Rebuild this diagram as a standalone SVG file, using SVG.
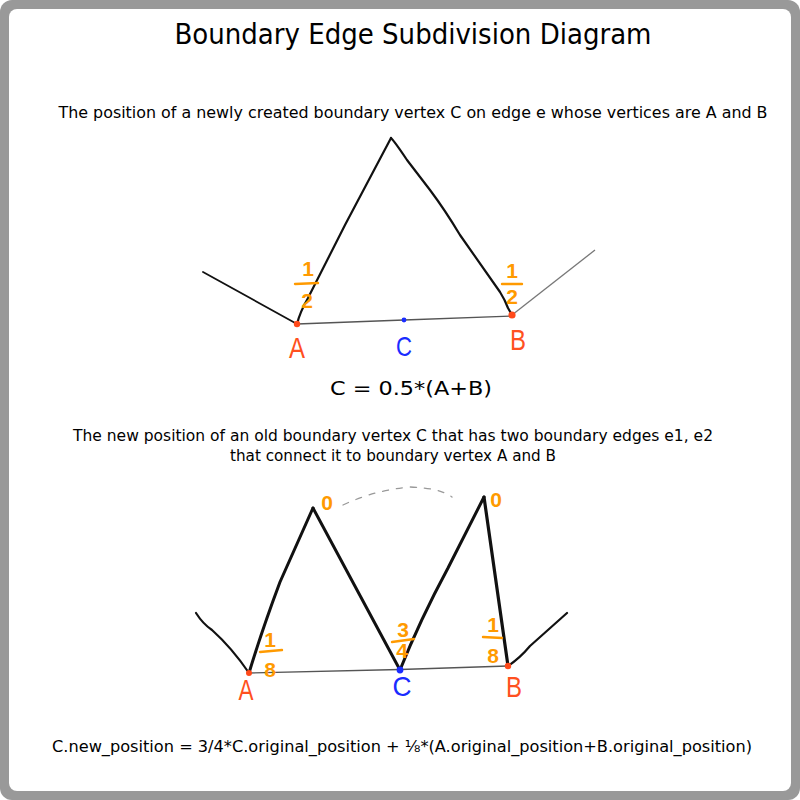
<svg xmlns="http://www.w3.org/2000/svg" width="800" height="800" viewBox="0 0 800 800">
<style>
.t{font-family:"DejaVu Sans",Verdana,sans-serif;fill:#000;text-anchor:middle}
.hw{font-family:"Liberation Sans",Arial,sans-serif;text-anchor:middle}
.fr{fill:#ff9a00;font-weight:bold;font-size:21px}
.ab{fill:#ff5020;font-size:30px}
.c{fill:#1a2cff;font-size:28px}
.bar{stroke:#ff9a00;stroke-width:2.4;stroke-linecap:round}
.e{fill:none;stroke:#111;stroke-linecap:round;stroke-linejoin:round}
.thin{fill:none;stroke:#555;stroke-width:1.3;stroke-linecap:round}
</style>
<rect x="0" y="0" width="800" height="800" rx="12" fill="#999"/>
<rect x="9" y="9" width="782" height="782" rx="8" fill="#fff"/>
<text class="t" x="413" y="44" font-size="28" textLength="477" lengthAdjust="spacingAndGlyphs">Boundary Edge Subdivision Diagram</text>
<text class="t" x="413" y="118" font-size="16" textLength="709" lengthAdjust="spacingAndGlyphs">The position of a newly created boundary vertex C on edge e whose vertices are A and B</text>
<text class="t" x="411" y="395" font-size="20" textLength="162" lengthAdjust="spacingAndGlyphs">C = 0.5*(A+B)</text>
<text class="t" x="393" y="441" font-size="16" textLength="640" lengthAdjust="spacingAndGlyphs">The new position of an old boundary vertex C that has two boundary edges e1, e2</text>
<text class="t" x="393" y="461" font-size="16" textLength="326" lengthAdjust="spacingAndGlyphs">that connect it to boundary vertex A and B</text>
<text class="t" x="402" y="752" font-size="16" textLength="700" lengthAdjust="spacingAndGlyphs">C.new_position = 3/4*C.original_position + ⅛*(A.original_position+B.original_position)</text>

<g id="connectors">
<!-- top -->
<path class="e" stroke-width="1.8" d="M203 272 L297 324"/>
<path class="e" stroke-width="2.2" d="M297 324 Q300 312 308 298 L345 225 L391 138"/>
<path class="e" stroke-width="2.2" d="M391 138 Q395 142 407 160 L430 190 Q445 210 460 235 L500 292 Q505 300 508 308 L512 315"/>
<path fill="none" stroke="#777" stroke-width="1.3" d="M512 315 L595 250"/>
<path class="thin" d="M297 324 L404 320 L512 316"/>
<!-- bottom -->
<path class="e" stroke-width="2.2" d="M196 613 Q203 624 212 630 Q232 648 249 673"/>
<path class="e" stroke-width="3" d="M249 673 Q262 630 280 582 L313 508"/>
<path class="e" stroke-width="3" d="M313 508 L400 670"/>
<path class="e" stroke-width="3" d="M400 670 Q420 620 448 568 L484 497"/>
<path class="e" stroke-width="3.2" d="M484 497 L508 666"/>
<path class="e" stroke-width="2.2" d="M508 666 Q520 658 530 646 L567 613"/>
<path class="thin" d="M249 673 L400 669.5 L508 666"/>
<path fill="none" stroke="#999" stroke-width="1.3" stroke-dasharray="6 8" stroke-linecap="round" d="M343 505 Q375 490 410 487 Q440 488 452 497"/>
</g>

<g id="vertexA_top">
<circle cx="297" cy="324" r="3.2" fill="#ff4a1a"/>
<text class="hw ab" x="297" y="358" textLength="16" lengthAdjust="spacingAndGlyphs">A</text>
</g>
<g id="vertexB_top">
<circle cx="512" cy="315" r="3.6" fill="#ff4a1a"/>
<text class="hw ab" x="518" y="350" textLength="16" lengthAdjust="spacingAndGlyphs">B</text>
</g>
<g id="vertexC_top">
<circle cx="404" cy="320" r="2.4" fill="#1a2cff"/>
<text class="hw c" x="404" y="356" textLength="16" lengthAdjust="spacingAndGlyphs">C</text>
</g>
<g id="weightA_top">
<text class="hw fr" x="308" y="276">1</text>
<line class="bar" x1="295" y1="284" x2="318" y2="283"/>
<text class="hw fr" x="307" y="308">2</text>
</g>
<g id="weightB_top">
<text class="hw fr" x="512" y="278">1</text>
<line class="bar" x1="502" y1="284" x2="522" y2="284"/>
<text class="hw fr" x="512" y="304">2</text>
</g>

<g id="vertexA_bottom">
<circle cx="249" cy="673" r="3" fill="#ff4a1a"/>
<text class="hw ab" x="246" y="700" textLength="15" lengthAdjust="spacingAndGlyphs">A</text>
</g>
<g id="vertexC_bottom">
<circle cx="400" cy="670" r="3.4" fill="#1a2cff"/>
<text class="hw c" x="402" y="696" textLength="19" lengthAdjust="spacingAndGlyphs">C</text>
</g>
<g id="vertexB_bottom">
<circle cx="508" cy="666" r="3.2" fill="#ff4a1a"/>
<text class="hw ab" x="514" y="697" textLength="16" lengthAdjust="spacingAndGlyphs">B</text>
</g>
<g id="peak1">
<text class="hw fr" x="327" y="510">0</text>
</g>
<g id="peak2">
<text class="hw fr" x="496" y="507">0</text>
</g>
<g id="weightA_bottom">
<text class="hw fr" x="270" y="647">1</text>
<line class="bar" x1="260" y1="652" x2="282" y2="650"/>
<text class="hw fr" x="270" y="677">8</text>
</g>
<g id="weightC_bottom">
<text class="hw fr" x="403" y="637">3</text>
<line class="bar" x1="392" y1="642" x2="414" y2="639"/>
<text class="hw fr" x="402" y="658">4</text>
</g>
<g id="weightB_bottom">
<text class="hw fr" x="493" y="632">1</text>
<line class="bar" x1="483" y1="637" x2="502" y2="638"/>
<text class="hw fr" x="493" y="663">8</text>
</g>
</svg>
